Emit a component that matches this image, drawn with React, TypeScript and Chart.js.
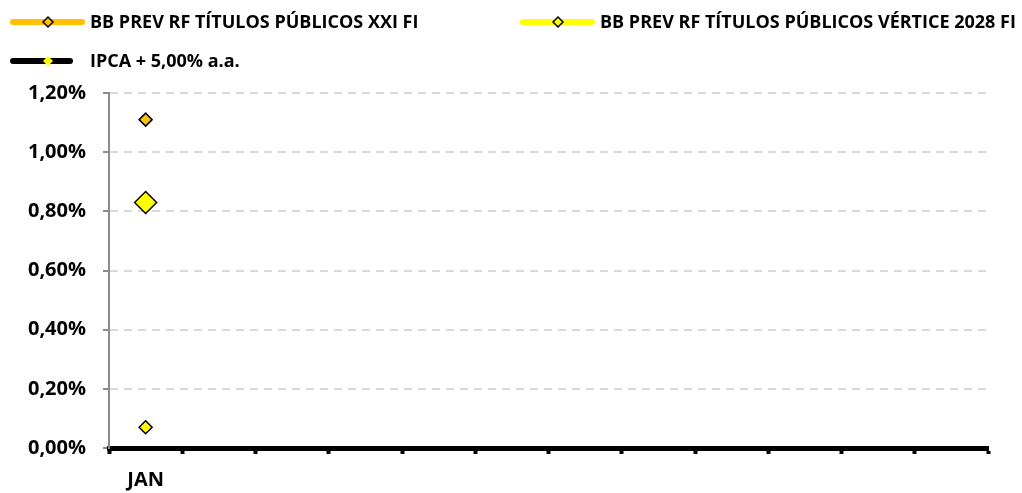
import React, { useEffect, useRef } from "react";
import { Chart, registerables } from "chart.js";

Chart.register(...registerables);

const months = ["JAN", "", "", "", "", "", "", "", "", "", "", ""];
const seriesNames = [
  "BB PREV RF TÍTULOS PÚBLICOS XXI FI",
  "BB PREV RF TÍTULOS PÚBLICOS VÉRTICE 2028 FI",
  "IPCA + 5,00% a.a.",
];
const xxiValues = [1.11, null, null, null, null, null, null, null, null, null, null, null];
const verticeValues = [0.07, null, null, null, null, null, null, null, null, null, null, null];
const ipcaValues = [0.83, null, null, null, null, null, null, null, null, null, null, null];
const yMin = 0;
const yMax = 1.2;
const yStep = 0.2;

const FONT = "'Open Sans', Lato, sans-serif";

const legendSlots = [
  { x: 10, y: 22, len: 75, marker: 38 },
  { x: 520, y: 22, len: 75, marker: 38 },
  { x: 10, y: 61, len: 63, marker: 38 },
];

function diamond(ctx: CanvasRenderingContext2D, x: number, y: number, r: number) {
  ctx.beginPath();
  ctx.moveTo(x - r, y);
  ctx.lineTo(x, y - r);
  ctx.lineTo(x + r, y);
  ctx.lineTo(x, y + r);
  ctx.closePath();
}

const legendPlugin = {
  id: "customLegend",
  afterDraw(chart: any) {
    const ctx: CanvasRenderingContext2D = chart.ctx;
    ctx.save();
    chart.data.datasets.forEach((ds: any, i: number) => {
      const s = legendSlots[i];
      if (!s) return;
      ctx.lineCap = "round";
      ctx.lineWidth = 6;
      ctx.strokeStyle = ds.borderColor;
      ctx.beginPath();
      ctx.moveTo(s.x + 3, s.y);
      ctx.lineTo(s.x + s.len - 3, s.y);
      ctx.stroke();
      diamond(ctx, s.x + s.marker, s.y, 5);
      ctx.fillStyle = ds.pointBackgroundColor;
      ctx.fill();
      if (i < 2) {
        ctx.lineWidth = 1.5;
        ctx.strokeStyle = "#000";
        ctx.stroke();
      }
      ctx.fillStyle = "#000";
      ctx.font = "bold 18px " + FONT;
      ctx.textAlign = "left";
      ctx.textBaseline = "middle";
      ctx.fillText(ds.label, s.x + 80, s.y + 1);
    });
    ctx.restore();
  },
};

export default function App() {
  const ref = useRef<HTMLCanvasElement | null>(null);
  useEffect(() => {
    if (!ref.current) return;
    const chart = new Chart(ref.current, {
      type: "line",
      data: {
        labels: months,
        datasets: [
          {
            label: seriesNames[0],
            data: xxiValues,
            borderColor: "#FFC000",
            backgroundColor: "#FFC000",
            pointBackgroundColor: "#FFC000",
            pointBorderColor: "#000",
            pointBorderWidth: 1.5,
            pointStyle: "rectRot",
            pointRadius: 6.5,
            borderWidth: 6,
          },
          {
            label: seriesNames[1],
            data: verticeValues,
            borderColor: "#FFFF00",
            backgroundColor: "#FFFF00",
            pointBackgroundColor: "#FFFF00",
            pointBorderColor: "#000",
            pointBorderWidth: 1.5,
            pointStyle: "rectRot",
            pointRadius: 6.5,
            borderWidth: 6,
          },
          {
            label: seriesNames[2],
            data: ipcaValues,
            borderColor: "#000000",
            backgroundColor: "#000000",
            pointBackgroundColor: "#FFFF00",
            pointBorderColor: "#000",
            pointBorderWidth: 1.5,
            pointStyle: "rectRot",
            pointRadius: 11,
            borderWidth: 6,
          },
        ],
      },
      options: {
        responsive: false,
        animation: false,
        layout: { padding: { top: 93, right: 34, left: 0, bottom: 0 } },
        plugins: {
          legend: { display: false },
          tooltip: { enabled: false },
        },
        scales: {
          x: {
            offset: true,
            grid: {
              display: true,
              offset: true,
              drawOnChartArea: false,
              drawTicks: true,
              tickLength: 6,
              tickWidth: 4,
              tickColor: "#000",
            },
            border: { display: true, color: "#000", width: 5 },
            ticks: {
              color: "#000",
              padding: 14,
              autoSkip: false,
              maxRotation: 0,
              font: { family: FONT, size: 20, weight: "bold" },
            },
            afterFit: (scale: any) => {
              scale.height = 45;
            },
          },
          y: {
            min: yMin,
            max: yMax,
            grid: {
              color: "#d9d9d9",
              lineWidth: 2,
              tickLength: 6,
              tickWidth: 2,
              tickColor: "#8c8c8c",
              tickBorderDash: [],
            },
            border: { display: true, color: "#8c8c8c", width: 2, dash: [8, 6] },
            ticks: {
              stepSize: yStep,
              color: "#000",
              padding: 17,
              font: { family: FONT, size: 20, weight: "bold" },
              callback: (v: any) => Number(v).toFixed(2).replace(".", ",") + "%",
            },
            afterFit: (scale: any) => {
              scale.width = 109;
            },
          },
        },
      },
      plugins: [legendPlugin],
    } as any);
    return () => chart.destroy();
  }, []);
  return (
    <div style={{ position: "fixed", left: 0, top: 0, width: 1022, height: 493, background: "#fff" }}>
      <canvas ref={ref} width={1022} height={493} style={{ display: "block" }} />
    </div>
  );
}
